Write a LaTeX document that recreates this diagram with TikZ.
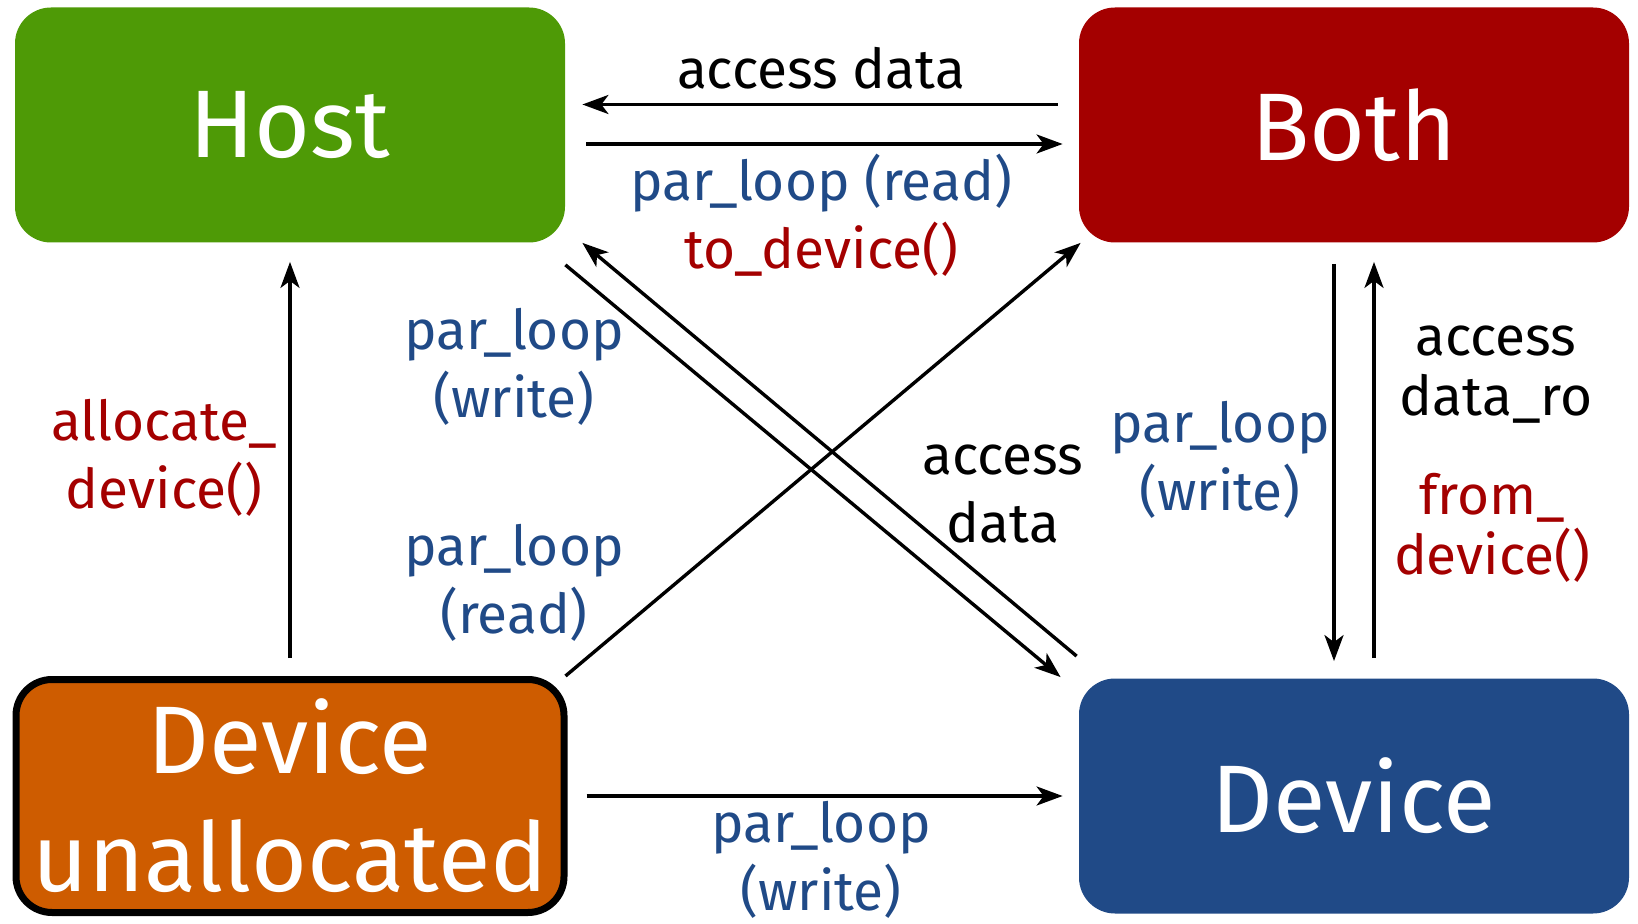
\documentclass[tikz,border=0pt]{standalone}
\usepackage{fontspec}
\setmainfont{Fira Sans}
\usetikzlibrary{arrows.meta,calc}
\definecolor{hostgreen}{HTML}{4E9A06}
\definecolor{bothred}{HTML}{A40000}
\definecolor{unallocorange}{HTML}{CE5C00}
\definecolor{deviceblue}{HTML}{204A87}
\tikzset{
  state/.style={rounded corners=18pt, minimum width=275pt, minimum height=117.5pt,
    inner sep=0pt, text=white, align=center, font=\fontsize{48}{59}\selectfont},
  arr/.style={line width=1.7pt, -{Stealth[length=13pt,width=9.5pt,inset=3.5pt]}},
  lbl/.style={align=center, inner sep=0pt, font=\fontsize{27.5}{34}\selectfont},
  tightlbl/.style={align=center, inner sep=0pt, font=\fontsize{27.5}{30}\selectfont},
  bluelbl/.style={lbl, text=deviceblue},
  redlbl/.style={lbl, text=bothred},
}
\begin{document}
\begin{tikzpicture}[x=0.5pt,y=-0.5pt]
\useasboundingbox (0,0) rectangle (1638,924);

% the four states
\node[state, fill=hostgreen] (host) at (290,125) {Host};
\node[state, fill=bothred] (both) at (1354,125) {Both};
\node[state, fill=unallocorange, draw=black, line width=3.5pt,
      minimum width=274pt, minimum height=116.5pt] (unalloc) at (290,796) {Device\\unallocated};
\node[state, fill=deviceblue] (device) at (1354,796) {Device};

% Host <-> Both
\draw[arr] ($(both.west)+(-21,-20.5)$) -- ($(host.east)+(17,-20.5)$);
\draw[arr] ($(host.east)+(21,19)$) -- ($(both.west)+(-16,19)$);
\node[lbl] (lad) at (821,68) {access data};
\node[bluelbl] (lplr) at (821,183) {par\_loop (read)};
\node[redlbl] (ltd) at (821,249) {to\_device()};

% Device unallocated -> Host
\draw[arr] ($(unalloc.north)+(0,-18)$) -- ($(host.south)+(0,19)$);
\node[redlbl] (lalloc) at (164,458) {allocate\_\\device()};

% Both <-> Device
\draw[arr] ($(both.south)+(-20,21)$) -- ($(device.north)+(-20,-17)$);
\draw[arr] ($(device.north)+(20,-20)$) -- ($(both.south)+(20,19)$);
\node[bluelbl] (lplw2) at (1220,460) {par\_loop\\(write)};
\node[tightlbl] (ladro) at (1496,375) {access\\data\_ro};
\node[tightlbl, text=bothred] (lfd) at (1492,528) {from\_\\device()};

% diagonals
\draw[arr] ($(host.south east)+(0,22)$) -- ($(device.north west)+(-18,-1)$);
\draw[arr] ($(device.north west)+(-2,-22)$) -- ($(host.south east)+(17,0)$);
\draw[arr] ($(unalloc.north east)+(-2,0)$) -- ($(both.south west)+(2,0)$);
\node[bluelbl] (lplw1) at (514,367) {par\_loop\\(write)};
\node[bluelbl] (lplr2) at (514,583) {par\_loop\\(read)};
\node[lbl] (lad2) at (1003,494) {access\\data};

% Device unallocated -> Device
\draw[arr] ($(unalloc.east)+(19,0)$) -- ($(device.west)+(-16,0)$);
\node[bluelbl] (lplw3) at (821,860) {par\_loop\\(write)};
\end{tikzpicture}
\end{document}
